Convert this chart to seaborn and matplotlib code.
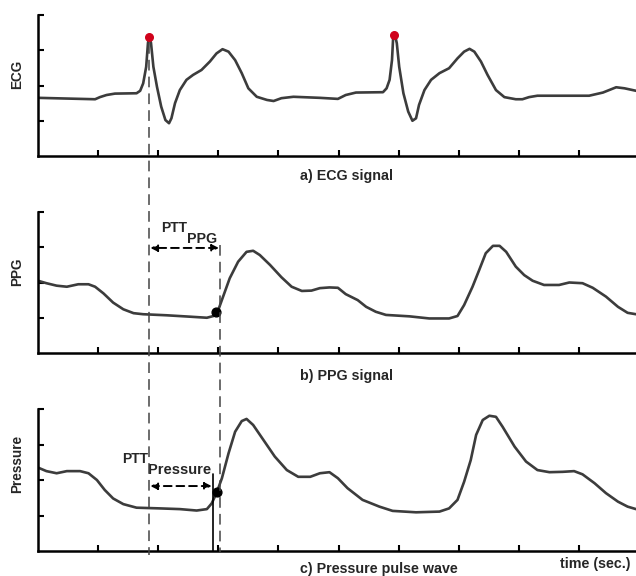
import matplotlib.pyplot as plt
import matplotlib.transforms as mtransforms
from matplotlib.lines import Line2D
import seaborn as sns

# ECG trace (time in sec., amplitude in tick units)
ecg_t = [0, 0.95, 1.03, 1.14, 1.28, 1.64, 1.70, 1.75, 1.80, 1.83, 1.85, 1.88, 1.92, 1.98,
         2.05, 2.12, 2.18, 2.22, 2.28, 2.36, 2.47, 2.58, 2.72, 2.86, 2.97, 3.07, 3.17, 3.28,
         3.39, 3.50, 3.64, 3.81, 3.92, 4.05, 4.25, 4.69, 4.99, 5.12, 5.29, 5.74, 5.80, 5.85,
         5.89, 5.91, 5.94, 5.97, 6.01, 6.08, 6.16, 6.23, 6.29, 6.34, 6.43, 6.54, 6.68, 6.84,
         6.98, 7.09, 7.18, 7.26, 7.37, 7.48, 7.62, 7.76, 7.95, 8.06, 8.17, 8.31, 9.17, 9.40,
         9.62, 9.76, 9.95]
ecg_v = [1.65, 1.61, 1.67, 1.73, 1.77, 1.78, 1.85, 2.06, 2.53, 3.21, 3.38, 3.21, 2.53, 1.96,
         1.40, 1.02, 0.93, 1.07, 1.50, 1.87, 2.16, 2.30, 2.44, 2.68, 2.91, 3.03, 2.96, 2.72,
         2.35, 1.92, 1.68, 1.59, 1.56, 1.64, 1.68, 1.65, 1.62, 1.73, 1.80, 1.81, 1.92, 2.16,
         2.72, 3.38, 3.43, 3.20, 2.53, 1.78, 1.26, 1.00, 1.07, 1.45, 1.87, 2.16, 2.35, 2.49,
         2.77, 2.96, 3.04, 2.96, 2.68, 2.30, 1.87, 1.67, 1.61, 1.61, 1.67, 1.71, 1.71, 1.80,
         1.95, 1.92, 1.85]
r_peak_t = [1.85, 5.93]
r_peak_v = [3.38, 3.43]

# PPG trace
ppg_t = [0, 0.14, 0.31, 0.48, 0.67, 0.84, 0.95, 1.09, 1.25, 1.42, 1.59, 1.75, 2.14, 2.53,
         2.81, 2.92, 3.00, 3.08, 3.19, 3.33, 3.47, 3.58, 3.69, 3.86, 4.05, 4.22, 4.39, 4.55,
         4.69, 4.85, 4.99, 5.12, 5.32, 5.46, 5.62, 5.79, 6.18, 6.51, 6.84, 6.98, 7.09, 7.23,
         7.34, 7.45, 7.57, 7.68, 7.79, 7.95, 8.09, 8.23, 8.42, 8.67, 8.84, 9.06, 9.23, 9.45,
         9.65, 9.81, 9.95]
ppg_v = [2.05, 1.98, 1.91, 1.88, 1.95, 1.95, 1.88, 1.69, 1.43, 1.24, 1.13, 1.10, 1.07, 1.03,
         1.00, 1.05, 1.22, 1.60, 2.12, 2.59, 2.87, 2.90, 2.78, 2.50, 2.15, 1.88, 1.76, 1.77,
         1.84, 1.86, 1.85, 1.67, 1.50, 1.31, 1.17, 1.08, 1.04, 0.98, 0.98, 1.05, 1.36, 1.88,
         2.35, 2.83, 3.04, 3.04, 2.87, 2.45, 2.21, 2.05, 1.93, 1.93, 2.00, 1.98, 1.85, 1.60,
         1.31, 1.14, 1.10]
ppg_foot = (2.96, 1.15)

# pressure pulse wave
prs_t = [0, 0.14, 0.31, 0.48, 0.70, 0.84, 0.98, 1.11, 1.25, 1.42, 1.64, 2.03, 2.36, 2.64,
         2.81, 2.89, 2.97, 3.06, 3.17, 3.28, 3.39, 3.47, 3.58, 3.75, 3.94, 4.14, 4.33, 4.53,
         4.69, 4.85, 4.99, 5.15, 5.40, 5.68, 5.90, 6.29, 6.68, 6.84, 6.98, 7.09, 7.20, 7.29,
         7.40, 7.51, 7.62, 7.73, 7.93, 8.12, 8.31, 8.51, 8.73, 8.92, 9.06, 9.26, 9.45, 9.65,
         9.81, 9.95]
prs_v = [2.35, 2.25, 2.19, 2.25, 2.25, 2.19, 2.00, 1.72, 1.48, 1.32, 1.22, 1.20, 1.18, 1.14,
         1.18, 1.34, 1.63, 2.05, 2.75, 3.36, 3.66, 3.72, 3.55, 3.13, 2.66, 2.28, 2.09, 2.09,
         2.19, 2.22, 2.05, 1.77, 1.44, 1.25, 1.13, 1.09, 1.11, 1.20, 1.44, 1.95, 2.56, 3.27,
         3.69, 3.81, 3.78, 3.50, 2.94, 2.52, 2.28, 2.22, 2.23, 2.25, 2.16, 1.91, 1.63, 1.39,
         1.25, 1.18]
prs_foot = (2.98, 1.65)

time_ticks = [1, 2, 3, 4, 5, 6, 7, 8, 9]
amp_ticks = [1, 2, 3, 4]

# PTT markers (time positions)
ppg_line_t = 3.03
prs_line_t = 2.92

sns.set_style('ticks')
plt.rcParams['font.family'] = ['Liberation Sans', 'DejaVu Sans']

fig = plt.figure(figsize=(6.36, 5.76), dpi=100)
left = 38 / 636
width = 1 - left
ax_a = fig.add_axes([left, 420 / 576, width, 141 / 576])
ax_b = fig.add_axes([left, 223 / 576, width, 141 / 576])
ax_c = fig.add_axes([left, 25 / 576, width, 142 / 576])

line_col = '#3c3c3c'
sns.lineplot(x=ecg_t, y=ecg_v, ax=ax_a, color=line_col, linewidth=1.9)
sns.lineplot(x=ppg_t, y=ppg_v, ax=ax_b, color=line_col, linewidth=1.9)
sns.lineplot(x=prs_t, y=prs_v, ax=ax_c, color=line_col, linewidth=1.9)

ax_a.scatter(r_peak_t, r_peak_v, color='#d0021b', s=30, zorder=5)
ax_b.scatter([ppg_foot[0]], [ppg_foot[1]], color='black', s=40, zorder=5)
ax_c.scatter([prs_foot[0]], [prs_foot[1]], color='black', s=40, zorder=5)

for ax in [ax_a, ax_b, ax_c]:
    ax.set_xlim(0, 9.95)
    ax.set_ylim(0, 4)
    ax.set_xticks(time_ticks)
    ax.set_yticks(amp_ticks)
    ax.tick_params(direction='in', length=4, width=1.5, colors='black',
                   labelbottom=False, labelleft=False)
    sns.despine(ax=ax)
    ax.spines['left'].set_linewidth(1.8)
    ax.spines['bottom'].set_linewidth(1.8)
    ax.spines['left'].set_color('black')
    ax.spines['bottom'].set_color('black')
    ax.set_xlabel('')
    ax.set_ylabel('')


def fig_y(ax, v):
    # data y of an axes -> figure fraction
    return fig.transFigure.inverted().transform(ax.transData.transform((0, v)))[1]


# dashed guide lines running down across the panels
dash = (0, (7, 4))
blend = mtransforms.blended_transform_factory(ax_c.transData, fig.transFigure)
fig.add_artist(Line2D([r_peak_t[0], r_peak_t[0]], [fig_y(ax_a, 3.2), fig_y(ax_c, -0.1)],
                      transform=blend, color='#444444', linewidth=1.1, linestyle=dash))
fig.add_artist(Line2D([ppg_line_t, ppg_line_t], [fig_y(ax_b, 3.06), fig_y(ax_c, -0.03)],
                      transform=blend, color='#444444', linewidth=1.1, linestyle=dash))

ax_c.plot([prs_line_t, prs_line_t], [0, 2.17], color='black', linewidth=1.2, zorder=4)

arrow = dict(arrowstyle='<|-|>', linestyle=(0, (4, 2.5)), color='black', linewidth=1.4,
             mutation_scale=10, shrinkA=0, shrinkB=0)
ax_b.annotate('', xy=(1.87, 2.98), xytext=(3.01, 2.98), arrowprops=arrow)
ax_c.annotate('', xy=(1.87, 1.83), xytext=(2.89, 1.83), arrowprops=arrow)

t1 = ax_b.text(2.05, 3.56, 'PTT', fontsize=10, fontweight='bold', ha='left', va='center')
ax_b.annotate('PPG', xy=(1, 0.2), xycoords=t1, fontsize=10.3, fontweight='bold',
              ha='left', va='top')
t2 = ax_c.text(1.40, 2.59, 'PTT', fontsize=10, fontweight='bold', ha='left', va='center')
ax_c.annotate('Pressure', xy=(1, 0.2), xycoords=t2, fontsize=10.5, fontweight='bold',
              ha='left', va='top')

# axis names and captions
fig.text(17 / 636, 1 - 74 / 576, 'ECG', rotation=90, fontsize=9.8, fontweight='bold',
         ha='center', va='center')
fig.text(17 / 636, 1 - 272 / 576, 'PPG', rotation=90, fontsize=9.8, fontweight='bold',
         ha='center', va='center')
fig.text(17 / 636, 1 - 464 / 576, 'Pressure', rotation=90, fontsize=9.8, fontweight='bold',
         ha='center', va='center')
fig.text(300 / 636, 1 - 176 / 576, 'a) ECG signal', fontsize=10.3, fontweight='bold',
         ha='left', va='center')
fig.text(300 / 636, 1 - 376 / 576, 'b) PPG signal', fontsize=10.3, fontweight='bold',
         ha='left', va='center')
fig.text(300 / 636, 1 - 569 / 576, 'c) Pressure pulse wave', fontsize=10.3,
         fontweight='bold', ha='left', va='center')
fig.text(560 / 636, 1 - 564 / 576, 'time (sec.)', fontsize=10.3, fontweight='bold',
         ha='left', va='center')

fig.savefig('out.png', dpi=100)
